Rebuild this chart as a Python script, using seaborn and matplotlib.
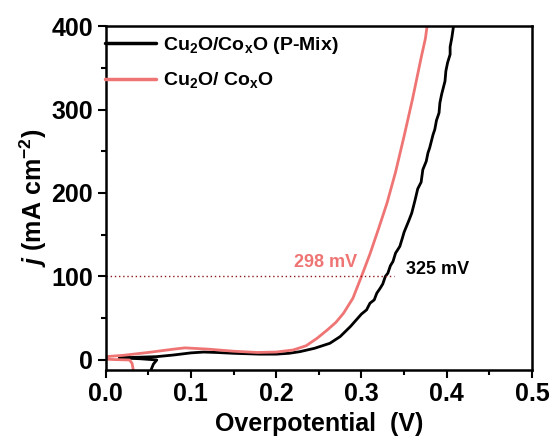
import pandas as pd
import matplotlib
matplotlib.use("Agg")
import matplotlib.pyplot as plt
import seaborn as sns
from matplotlib.ticker import MultipleLocator

# LSV traces (overpotential in V, j in mA cm-2)
pmix_v = [0.052, 0.056, 0.060, 0.040, 0.016, 0.030, 0.060, 0.080, 0.100, 0.115,
          0.130, 0.150, 0.180, 0.200, 0.215, 0.228, 0.245, 0.263, 0.275, 0.287,
          0.300, 0.306, 0.310, 0.315, 0.318, 0.322, 0.325, 0.328, 0.331, 0.334,
          0.337, 0.340, 0.345, 0.348, 0.350, 0.356, 0.359, 0.363, 0.366, 0.370,
          0.372, 0.376, 0.378, 0.380, 0.384, 0.386, 0.388, 0.391, 0.392, 0.394,
          0.398, 0.399, 0.401, 0.404, 0.404, 0.406, 0.408]
pmix_j = [-15, -5, 0, 1.5, 2.5, 3, 4, 6, 8.5, 9.5,
          9, 8, 7, 7, 8, 10, 14, 20, 28, 40,
          55, 60, 68, 72, 80, 86, 91, 100, 104, 113,
          118, 128, 136, 146, 153, 168, 176, 192, 205, 213,
          228, 238, 248, 254, 270, 276, 287, 296, 308, 318,
          334, 346, 356, 366, 375, 386, 400]

cu_v = [0.033, 0.031, 0.028, 0.010, 0.000, 0.000, 0.020, 0.050, 0.080, 0.093,
        0.120, 0.150, 0.178, 0.200, 0.220, 0.235, 0.248, 0.260, 0.270, 0.279,
        0.290, 0.300, 0.310, 0.320, 0.330, 0.340, 0.350, 0.360, 0.370, 0.375,
        0.377]
cu_j = [-15, -4, 0, 0.5, 1, 4, 5.5, 9, 13, 14.5,
        13, 10.5, 9, 9.5, 12, 17, 26, 36, 45, 56,
        74, 100, 127, 157, 188, 225, 268, 313, 362, 385,
        400]

labels = ["Cu$_2$O/Co$_\\mathrm{x}$O (P-Mix)", "Cu$_2$O/ Co$_\\mathrm{x}$O"]
colors = ["#000000", "#EF7474"]
eta_vals = ["298 mV", "325 mV"]

df = pd.concat([
    pd.DataFrame({"V": pmix_v, "j": pmix_j, "sample": labels[0]}),
    pd.DataFrame({"V": cu_v, "j": cu_j, "sample": labels[1]}),
])

sns.set_style("ticks")
plt.rcParams["font.family"] = ["Liberation Sans", "DejaVu Sans"]
plt.rcParams["font.weight"] = "bold"
plt.rcParams["text.color"] = "black"
plt.rcParams["axes.labelcolor"] = "black"
plt.rcParams["xtick.color"] = "black"
plt.rcParams["ytick.color"] = "black"
plt.rcParams["axes.edgecolor"] = "black"
plt.rcParams["mathtext.fontset"] = "custom"
plt.rcParams["mathtext.rm"] = "Liberation Sans:bold"
plt.rcParams["mathtext.it"] = "Liberation Sans:bold:italic"
plt.rcParams["mathtext.bf"] = "Liberation Sans:bold"

fig = plt.figure(figsize=(5.53, 4.41), dpi=100)
ax = fig.add_axes([0.191, 0.161, 0.771, 0.780])

sns.lineplot(data=df, x="V", y="j", hue="sample", estimator=None, sort=False,
             palette=dict(zip(labels, colors)), hue_order=labels,
             linewidth=2.0, ax=ax, legend=False)

# 100 mA cm-2 reference line and overpotential labels
ax.plot([0, 0.338], [100, 100], color="#8B1A1A", lw=1.0, ls=(0, (1, 2)))
ax.text(0.258, 117, eta_vals[0], color=colors[1], fontsize=13, fontweight="bold",
        ha="center", va="center")
ax.text(0.389, 108, eta_vals[1], color=colors[0], fontsize=13, fontweight="bold",
        ha="center", va="center")

ax.set_xlim(0, 0.5)
ax.set_ylim(-12, 400)
ax.xaxis.set_major_locator(MultipleLocator(0.1))
ax.xaxis.set_minor_locator(MultipleLocator(0.05))
ax.yaxis.set_major_locator(MultipleLocator(100))
ax.yaxis.set_minor_locator(MultipleLocator(50))
ax.tick_params(which="major", direction="out", length=6, width=1.5, labelsize=18, pad=3)
ax.tick_params(which="minor", direction="out", length=3.5, width=1.5)
for s in ax.spines.values():
    s.set_linewidth(1.8)
ax.set_xticklabels([f"{t:.1f}" for t in ax.get_xticks()], fontweight="bold")
ax.set_yticklabels([f"{t:.0f}" for t in ax.get_yticks()], fontweight="bold")

ax.set_xlabel("Overpotential  (V)", fontsize=18, fontweight="bold", labelpad=4)
ax.set_ylabel("$j$ (mA cm$^{-2}$)", fontsize=18, fontweight="bold", labelpad=2)

handles = [plt.Line2D([], [], color=c, lw=2.5) for c in colors]
ax.legend(handles, labels, loc="upper left", bbox_to_anchor=(-0.005, 0.98), frameon=False,
          prop={"size": 14, "weight": "bold"}, handlelength=2.6, handletextpad=0.35,
          borderaxespad=0, borderpad=0.1, labelspacing=0.75)

fig.savefig("out.png", dpi=100)
